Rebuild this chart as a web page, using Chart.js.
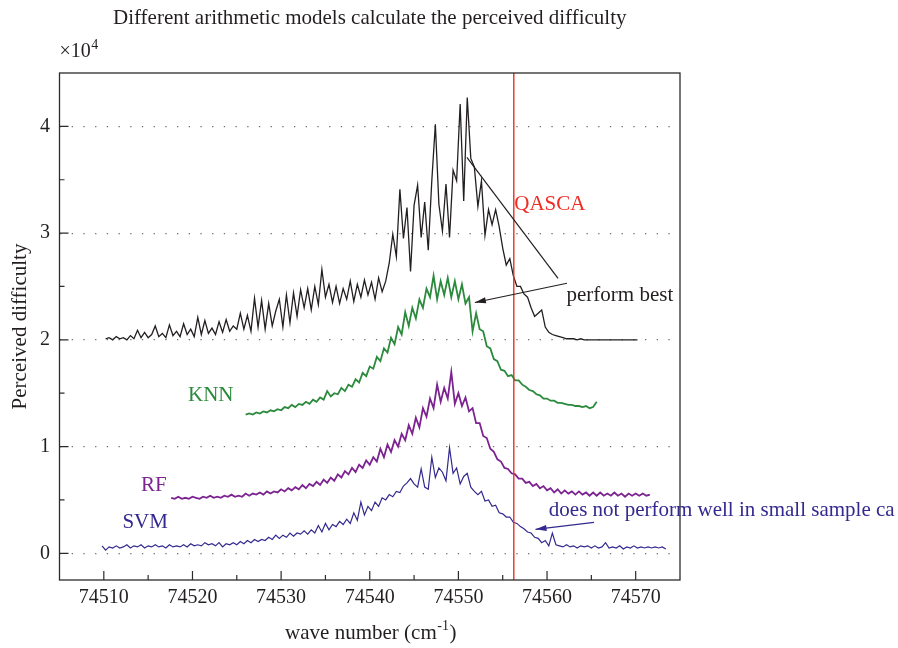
<!DOCTYPE html>
<html>
<head>
<meta charset="utf-8">
<title>Perceived difficulty</title>
<script src="https://cdn.jsdelivr.net/npm/chart.js@4.4.1/dist/chart.umd.min.js"></script>
<style>
  html, body { margin: 0; padding: 0; background: #fff; }
  canvas { display: block; }
</style>
</head>
<body>
<canvas id="chart" width="898" height="648"></canvas>
<script>
// Axis ticks (wave number, and perceived difficulty in units of 10^4)
const xTicks = [74510, 74520, 74530, 74540, 74550, 74560, 74570];
const xMinorTicks = [74515, 74525, 74535, 74545, 74555, 74565];
const yTicks = [0, 1, 2, 3, 4];
const yMinorTicks = [0.5, 1.5, 2.5, 3.5];

// Each curve is sampled every 0.4 cm-1 from its start wave number
const sampleStep = 0.4;

// QASCA (black)
const qascaStart = 74510.2;
const qascaValues = [
  2.01, 2.02, 2.00, 2.03, 2.01, 2.02, 2.00, 2.04, 2.01, 2.09,
  2.02, 2.07, 2.02, 2.05, 2.13, 2.03, 2.06, 2.02, 2.14, 2.04,
  2.08, 2.03, 2.15, 2.05, 2.10, 2.03, 2.21, 2.05, 2.18, 2.06,
  2.11, 2.05, 2.17, 2.07, 2.19, 2.08, 2.13, 2.10, 2.25, 2.10,
  2.23, 2.08, 2.39, 2.12, 2.37, 2.10, 2.34, 2.13, 2.27, 2.38,
  2.12, 2.42, 2.16, 2.44, 2.22, 2.47, 2.30, 2.48, 2.28, 2.50,
  2.33, 2.66, 2.40, 2.52, 2.35, 2.50, 2.34, 2.48, 2.38, 2.55,
  2.36, 2.52, 2.40, 2.56, 2.42, 2.54, 2.38, 2.58, 2.45, 2.55,
  2.72, 2.99, 2.78, 3.41, 2.95, 3.24, 2.64, 3.26, 3.45, 2.96,
  3.29, 2.84, 3.49, 4.02, 3.27, 3.02, 3.46, 2.96, 3.59, 3.49,
  4.21, 3.30, 4.27, 3.70, 3.62, 3.25, 3.49, 2.98, 3.22, 3.08,
  3.22, 3.06, 2.86, 2.70, 2.76, 2.60, 2.50, 2.50, 2.43, 2.40,
  2.30, 2.22, 2.25, 2.28, 2.12, 2.07, 2.05, 2.04, 2.03, 2.02,
  2.01, 2.01, 2.01, 2.00, 2.01, 2.00, 2.00, 2.00, 2.00, 2.00,
  2.00, 2.00, 2.00, 2.00, 2.00, 2.00, 2.00, 2.00, 2.00, 2.00,
  2.00
];

// KNN (green)
const knnStart = 74526.0;
const knnValues = [
  1.30, 1.31, 1.30, 1.32, 1.31, 1.33, 1.32, 1.34, 1.33, 1.35,
  1.34, 1.37, 1.36, 1.39, 1.37, 1.40, 1.39, 1.42, 1.40, 1.44,
  1.42, 1.46, 1.44, 1.52, 1.47, 1.50, 1.49, 1.55, 1.52, 1.58,
  1.56, 1.63, 1.60, 1.69, 1.66, 1.75, 1.73, 1.84, 1.80, 1.92,
  1.88, 2.02, 1.96, 2.12, 2.05, 2.26, 2.13, 2.30, 2.20, 2.38,
  2.30, 2.48, 2.40, 2.60, 2.38, 2.55, 2.42, 2.58, 2.40, 2.55,
  2.38, 2.52, 2.34, 2.40, 2.08, 2.25, 2.10, 2.08, 1.94, 1.92,
  1.82, 1.80, 1.72, 1.71, 1.66, 1.67, 1.62, 1.62, 1.58, 1.56,
  1.53, 1.52, 1.49, 1.48, 1.45, 1.45, 1.43, 1.43, 1.41, 1.41,
  1.40, 1.39, 1.39, 1.38, 1.38, 1.37, 1.38, 1.36, 1.37, 1.42
];

// RF (purple)
const rfStart = 74517.6;
const rfValues = [
  0.52, 0.51, 0.53, 0.51, 0.52, 0.51, 0.53, 0.52, 0.51, 0.53,
  0.52, 0.54, 0.52, 0.53, 0.52, 0.54, 0.53, 0.55, 0.53, 0.54,
  0.53, 0.56, 0.54, 0.56, 0.55, 0.57, 0.55, 0.58, 0.56, 0.58,
  0.57, 0.60, 0.58, 0.61, 0.59, 0.62, 0.60, 0.64, 0.61, 0.65,
  0.63, 0.67, 0.64, 0.69, 0.66, 0.71, 0.68, 0.74, 0.71, 0.77,
  0.74, 0.80, 0.76, 0.83, 0.80, 0.87, 0.83, 0.90, 0.86, 0.98,
  0.90, 1.02, 0.95, 1.06, 1.00, 1.12, 1.06, 1.20, 1.12, 1.27,
  1.18, 1.36, 1.28, 1.45, 1.36, 1.58, 1.42, 1.55, 1.45, 1.70,
  1.40, 1.50, 1.38, 1.46, 1.33, 1.36, 1.22, 1.22, 1.10, 1.08,
  0.98, 0.95, 0.88, 0.86, 0.80, 0.79, 0.75, 0.74, 0.70, 0.70,
  0.66, 0.67, 0.63, 0.65, 0.61, 0.63, 0.59, 0.61, 0.57, 0.60,
  0.56, 0.59, 0.56, 0.58, 0.55, 0.58, 0.55, 0.57, 0.54, 0.57,
  0.54, 0.57, 0.54, 0.56, 0.54, 0.57, 0.54, 0.56, 0.53, 0.56,
  0.54, 0.56, 0.54, 0.56, 0.54, 0.55
];

// SVM (blue)
const svmStart = 74509.8;
const svmValues = [
  0.07, 0.03, 0.06, 0.05, 0.07, 0.05, 0.06, 0.08, 0.05, 0.07,
  0.06, 0.08, 0.05, 0.07, 0.06, 0.08, 0.06, 0.07, 0.05, 0.08,
  0.06, 0.07, 0.06, 0.08, 0.06, 0.09, 0.07, 0.08, 0.07, 0.10,
  0.08, 0.09, 0.07, 0.10, 0.06, 0.09, 0.08, 0.10, 0.08, 0.11,
  0.09, 0.12, 0.10, 0.13, 0.11, 0.13, 0.12, 0.15, 0.13, 0.17,
  0.14, 0.17, 0.15, 0.19, 0.16, 0.19, 0.18, 0.21, 0.18, 0.22,
  0.19, 0.26, 0.20, 0.28, 0.22, 0.27, 0.25, 0.30, 0.27, 0.32,
  0.28, 0.38, 0.31, 0.48, 0.36, 0.44, 0.40, 0.48, 0.44, 0.52,
  0.50, 0.55, 0.53, 0.58, 0.57, 0.63, 0.66, 0.70, 0.65, 0.62,
  0.79, 0.62, 0.60, 0.90, 0.71, 0.80, 0.76, 0.68, 0.99, 0.75,
  0.80, 0.65, 0.72, 0.75, 0.62, 0.58, 0.55, 0.58, 0.49, 0.50,
  0.44, 0.45, 0.38, 0.37, 0.34, 0.34, 0.29, 0.28, 0.25, 0.23,
  0.20, 0.19, 0.15, 0.14, 0.10, 0.12, 0.07, 0.19, 0.08, 0.07,
  0.06, 0.08, 0.06, 0.07, 0.05, 0.07, 0.06, 0.07, 0.05, 0.07,
  0.05, 0.06, 0.10, 0.05, 0.06, 0.05, 0.07, 0.04, 0.06, 0.05,
  0.07, 0.05, 0.06, 0.05, 0.06, 0.05, 0.06, 0.05, 0.06, 0.04
];

// QASCA marker line position (wave number)
const qascaMarker = 74556.25;

const FONT = '"Liberation Serif", "DejaVu Serif", serif';
const INK = '#231f20';
const RED = '#ee2d24';
const GREEN = '#2b8a3c';
const PURPLE = '#7c2391';
const BLUE = '#33298f';

// Labels and pointers, placed in data coordinates
const notes = [
  { text: 'QASCA', x: 74556.3, y: 3.27, color: RED },
  { text: 'perform best', x: 74562.2, y: 2.42, color: INK },
  { text: 'KNN', x: 74519.5, y: 1.48, color: GREEN },
  { text: 'RF', x: 74514.2, y: 0.64, color: PURPLE },
  { text: 'SVM', x: 74512.1, y: 0.29, color: BLUE },
  { text: 'does not perform well in small sample ca', x: 74560.2, y: 0.40, color: BLUE }
];
const pointers = [
  { from: [74550.96, 3.71], to: [74561.24, 2.575], color: INK, head: false },
  { from: [74562.25, 2.53], to: [74551.86, 2.35], color: INK, head: true },
  { from: [74565.3, 0.29], to: [74558.7, 0.225], color: BLUE, head: true }
];

function toPoints(start, values) {
  return values.map(function(v, i) {
    return { x: +(start + sampleStep * i).toFixed(2), y: v };
  });
}

function curve(label, start, values, color, width) {
  return {
    label: label,
    data: toPoints(start, values),
    borderColor: color,
    borderWidth: width,
    pointRadius: 0,
    tension: 0,
    fill: false
  };
}

function drawSup(ctx, base, sup, x, y, size, align) {
  ctx.font = size + 'px ' + FONT;
  const w1 = ctx.measureText(base).width;
  ctx.font = Math.round(size * 0.68) + 'px ' + FONT;
  const w2 = ctx.measureText(sup).width;
  let left = x;
  if (align === 'center') left = x - (w1 + w2) / 2;
  ctx.textAlign = 'left';
  ctx.textBaseline = 'alphabetic';
  ctx.font = size + 'px ' + FONT;
  ctx.fillText(base, left, y);
  ctx.font = Math.round(size * 0.68) + 'px ' + FONT;
  ctx.fillText(sup, left + w1 + 0.5, y - size * 0.42);
  return left + w1 + w2;
}

const decorPlugin = {
  id: 'decor',
  afterDatasetsDraw(chart) {
    const ctx = chart.ctx;
    const a = chart.chartArea;
    const xs = chart.scales.x;
    const ys = chart.scales.y;
    ctx.save();

    // QASCA marker
    const rx = xs.getPixelForValue(qascaMarker);
    ctx.strokeStyle = RED;
    ctx.lineWidth = 1.4;
    ctx.beginPath();
    ctx.moveTo(rx, a.top);
    ctx.lineTo(rx, a.bottom);
    ctx.stroke();

    // pointer lines
    pointers.forEach(function(p) {
      const x1 = xs.getPixelForValue(p.from[0]), y1 = ys.getPixelForValue(p.from[1]);
      const x2 = xs.getPixelForValue(p.to[0]), y2 = ys.getPixelForValue(p.to[1]);
      ctx.strokeStyle = p.color;
      ctx.fillStyle = p.color;
      ctx.lineWidth = 1.2;
      ctx.beginPath();
      ctx.moveTo(x1, y1);
      ctx.lineTo(x2, y2);
      ctx.stroke();
      if (p.head) {
        const ang = Math.atan2(y2 - y1, x2 - x1);
        const len = 11, half = 3;
        ctx.beginPath();
        ctx.moveTo(x2, y2);
        ctx.lineTo(x2 - len * Math.cos(ang) + half * Math.sin(ang), y2 - len * Math.sin(ang) - half * Math.cos(ang));
        ctx.lineTo(x2 - len * Math.cos(ang) - half * Math.sin(ang), y2 - len * Math.sin(ang) + half * Math.cos(ang));
        ctx.closePath();
        ctx.fill();
      }
    });

    // series labels and notes
    ctx.textAlign = 'left';
    ctx.textBaseline = 'middle';
    ctx.font = '21px ' + FONT;
    notes.forEach(function(n) {
      ctx.fillStyle = n.color;
      ctx.fillText(n.text, xs.getPixelForValue(n.x), ys.getPixelForValue(n.y));
    });
    ctx.restore();
  },
  afterDraw(chart) {
    const ctx = chart.ctx;
    const a = chart.chartArea;
    const xs = chart.scales.x;
    const ys = chart.scales.y;
    ctx.save();

    // frame
    ctx.strokeStyle = '#2b2b2b';
    ctx.lineWidth = 1.3;
    ctx.strokeRect(a.left, a.top, a.right - a.left, a.bottom - a.top);

    // inward ticks
    ctx.lineWidth = 1.2;
    ctx.beginPath();
    xTicks.forEach(function(v) {
      const px = xs.getPixelForValue(v);
      ctx.moveTo(px, a.bottom);
      ctx.lineTo(px, a.bottom - 9);
    });
    xMinorTicks.forEach(function(v) {
      const px = xs.getPixelForValue(v);
      ctx.moveTo(px, a.bottom);
      ctx.lineTo(px, a.bottom - 5);
    });
    yTicks.forEach(function(v) {
      const py = ys.getPixelForValue(v);
      ctx.moveTo(a.left, py);
      ctx.lineTo(a.left + 9, py);
    });
    yMinorTicks.forEach(function(v) {
      const py = ys.getPixelForValue(v);
      ctx.moveTo(a.left, py);
      ctx.lineTo(a.left + 5, py);
    });
    ctx.stroke();

    // title
    ctx.fillStyle = INK;
    ctx.textAlign = 'center';
    ctx.textBaseline = 'alphabetic';
    ctx.font = '21px ' + FONT;
    ctx.fillText('Different arithmetic models calculate the perceived difficulty', (a.left + a.right) / 2, 24);

    // exponent
    drawSup(ctx, '\u00d710', '4', a.left, 57, 20, 'left');

    // x axis title
    const end = drawSup(ctx, 'wave number (cm', '-1', (a.left + a.right) / 2 - 3, 639, 21, 'center');
    ctx.font = '21px ' + FONT;
    ctx.fillText(')', end + 1, 639);

    // y axis title
    ctx.translate(20, (a.top + a.bottom) / 2);
    ctx.rotate(-Math.PI / 2);
    ctx.textAlign = 'center';
    ctx.textBaseline = 'middle';
    ctx.fillText('Perceived difficulty', 0, 0);
    ctx.restore();
  }
};

new Chart(document.getElementById('chart'), {
  type: 'line',
  data: {
    datasets: [
      curve('QASCA', qascaStart, qascaValues, INK, 1.3),
      curve('KNN', knnStart, knnValues, GREEN, 1.8),
      curve('RF', rfStart, rfValues, PURPLE, 1.8),
      curve('SVM', svmStart, svmValues, BLUE, 1.2)
    ]
  },
  options: {
    responsive: false,
    animation: false,
    layout: { padding: { top: 73, right: 218, bottom: 0, left: 0 } },
    plugins: {
      legend: { display: false },
      tooltip: { enabled: false }
    },
    scales: {
      x: {
        type: 'linear',
        min: 74505,
        max: 74575,
        afterFit: function(s) { s.height = 68; },
        afterBuildTicks: function(s) { s.ticks = xTicks.map(function(v) { return { value: v }; }); },
        grid: { display: false, drawTicks: false },
        border: { display: false },
        ticks: {
          padding: 6,
          maxRotation: 0,
          color: INK,
          font: { family: FONT, size: 20 },
          callback: function(v) { return String(v); }
        }
      },
      y: {
        min: -0.25,
        max: 4.5,
        afterFit: function(s) { s.width = 59.5; },
        afterBuildTicks: function(s) { s.ticks = yTicks.map(function(v) { return { value: v }; }); },
        grid: { color: '#6f6f6f', lineWidth: 1.2, drawTicks: false },
        border: { display: false, dash: [1.3, 10.4] },
        ticks: {
          padding: 9.5,
          color: INK,
          font: { family: FONT, size: 20 },
          callback: function(v) { return String(v); }
        }
      }
    }
  },
  plugins: [decorPlugin]
});
</script>
</body>
</html>
